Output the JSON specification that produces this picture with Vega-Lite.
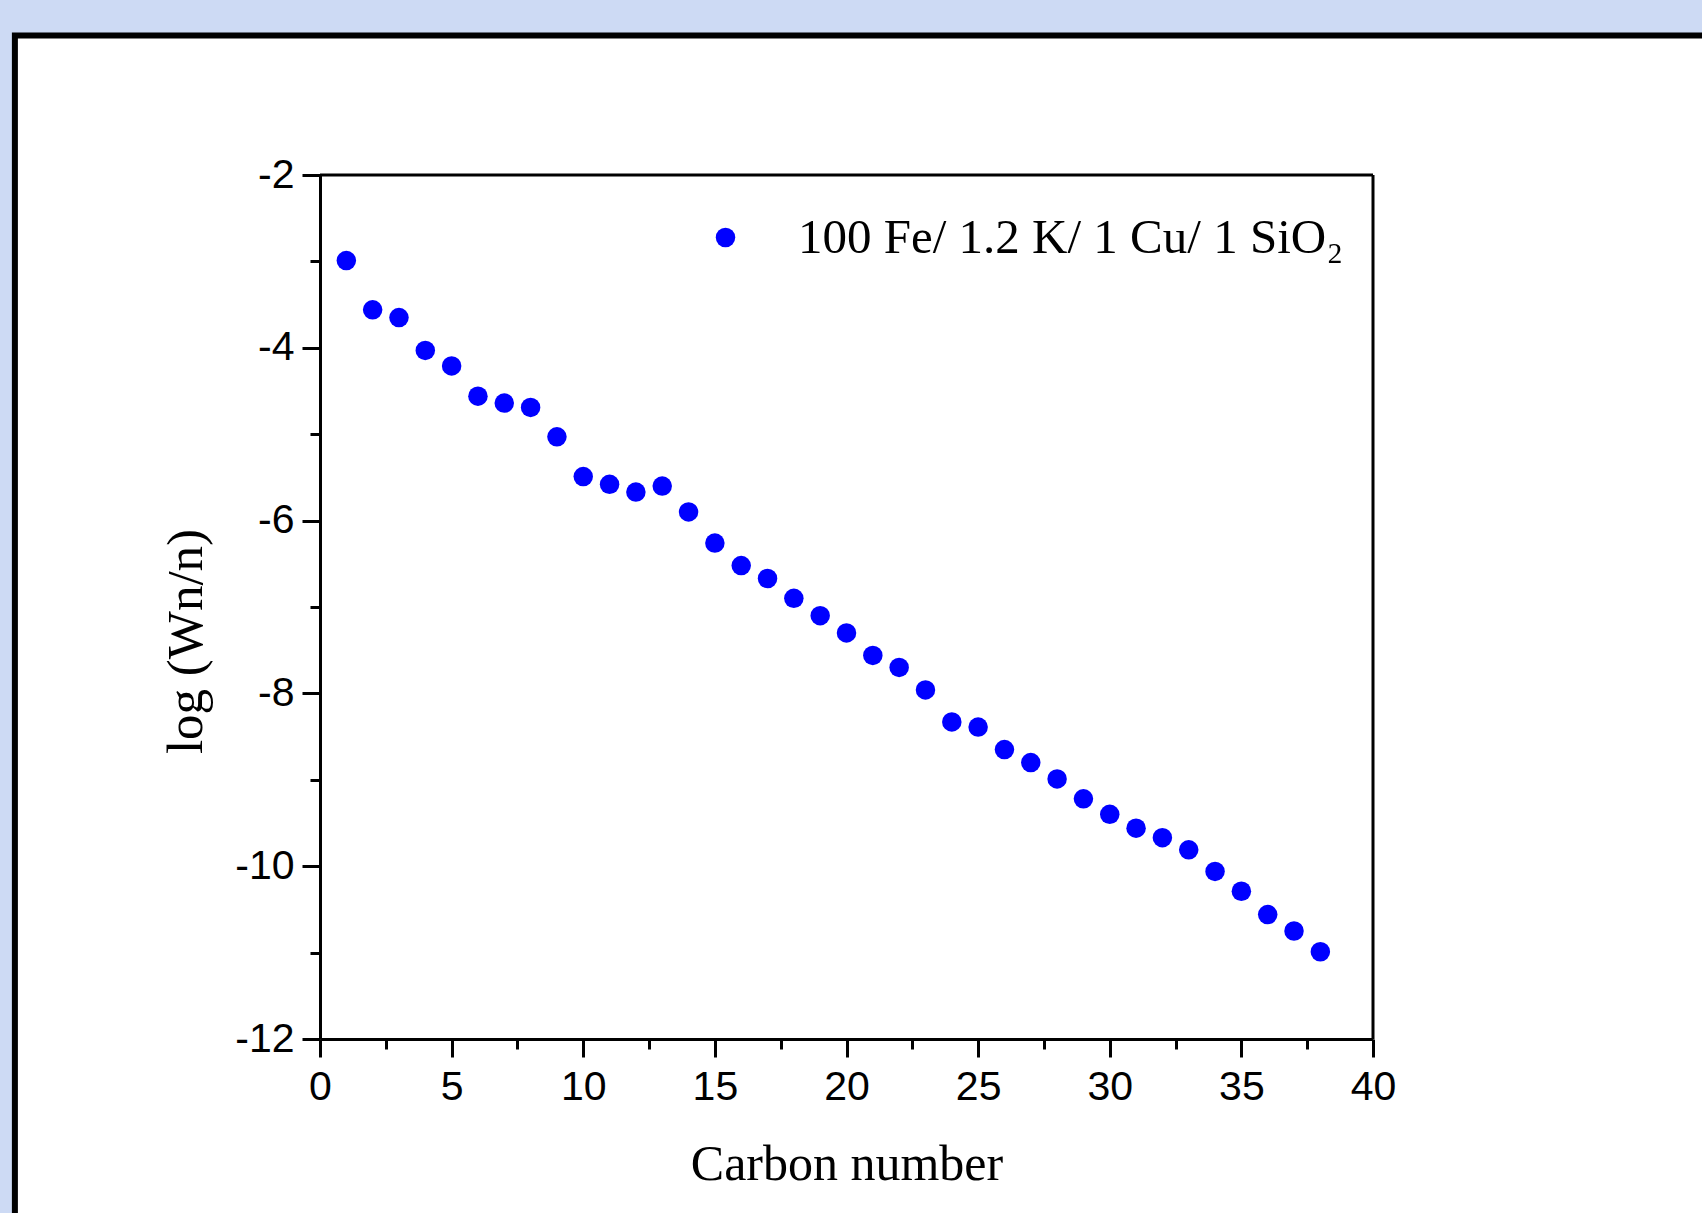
{
  "$schema": "https://vega.github.io/schema/vega-lite/v6.json",
  "width": 1053,
  "height": 864,
  "autosize": {"type": "none"},
  "padding": {"left": 320, "top": 175, "right": 329, "bottom": 174},
  "background": "#cddaf4",
  "config": {
    "view": {"stroke": null}
  },
  "resolve": {"axis": {"x": "independent", "y": "independent"}},
  "datasets": {
    "pts": [
      {"n": 1, "v": -2.99, "s": "100 Fe/ 1.2 K/ 1 Cu/ 1 SiO₂"},
      {"n": 2, "v": -3.56, "s": "100 Fe/ 1.2 K/ 1 Cu/ 1 SiO₂"},
      {"n": 3, "v": -3.65, "s": "100 Fe/ 1.2 K/ 1 Cu/ 1 SiO₂"},
      {"n": 4, "v": -4.03, "s": "100 Fe/ 1.2 K/ 1 Cu/ 1 SiO₂"},
      {"n": 5, "v": -4.21, "s": "100 Fe/ 1.2 K/ 1 Cu/ 1 SiO₂"},
      {"n": 6, "v": -4.56, "s": "100 Fe/ 1.2 K/ 1 Cu/ 1 SiO₂"},
      {"n": 7, "v": -4.64, "s": "100 Fe/ 1.2 K/ 1 Cu/ 1 SiO₂"},
      {"n": 8, "v": -4.69, "s": "100 Fe/ 1.2 K/ 1 Cu/ 1 SiO₂"},
      {"n": 9, "v": -5.03, "s": "100 Fe/ 1.2 K/ 1 Cu/ 1 SiO₂"},
      {"n": 10, "v": -5.49, "s": "100 Fe/ 1.2 K/ 1 Cu/ 1 SiO₂"},
      {"n": 11, "v": -5.58, "s": "100 Fe/ 1.2 K/ 1 Cu/ 1 SiO₂"},
      {"n": 12, "v": -5.67, "s": "100 Fe/ 1.2 K/ 1 Cu/ 1 SiO₂"},
      {"n": 13, "v": -5.60, "s": "100 Fe/ 1.2 K/ 1 Cu/ 1 SiO₂"},
      {"n": 14, "v": -5.90, "s": "100 Fe/ 1.2 K/ 1 Cu/ 1 SiO₂"},
      {"n": 15, "v": -6.26, "s": "100 Fe/ 1.2 K/ 1 Cu/ 1 SiO₂"},
      {"n": 16, "v": -6.52, "s": "100 Fe/ 1.2 K/ 1 Cu/ 1 SiO₂"},
      {"n": 17, "v": -6.67, "s": "100 Fe/ 1.2 K/ 1 Cu/ 1 SiO₂"},
      {"n": 18, "v": -6.90, "s": "100 Fe/ 1.2 K/ 1 Cu/ 1 SiO₂"},
      {"n": 19, "v": -7.10, "s": "100 Fe/ 1.2 K/ 1 Cu/ 1 SiO₂"},
      {"n": 20, "v": -7.30, "s": "100 Fe/ 1.2 K/ 1 Cu/ 1 SiO₂"},
      {"n": 21, "v": -7.56, "s": "100 Fe/ 1.2 K/ 1 Cu/ 1 SiO₂"},
      {"n": 22, "v": -7.70, "s": "100 Fe/ 1.2 K/ 1 Cu/ 1 SiO₂"},
      {"n": 23, "v": -7.96, "s": "100 Fe/ 1.2 K/ 1 Cu/ 1 SiO₂"},
      {"n": 24, "v": -8.33, "s": "100 Fe/ 1.2 K/ 1 Cu/ 1 SiO₂"},
      {"n": 25, "v": -8.39, "s": "100 Fe/ 1.2 K/ 1 Cu/ 1 SiO₂"},
      {"n": 26, "v": -8.65, "s": "100 Fe/ 1.2 K/ 1 Cu/ 1 SiO₂"},
      {"n": 27, "v": -8.80, "s": "100 Fe/ 1.2 K/ 1 Cu/ 1 SiO₂"},
      {"n": 28, "v": -8.99, "s": "100 Fe/ 1.2 K/ 1 Cu/ 1 SiO₂"},
      {"n": 29, "v": -9.22, "s": "100 Fe/ 1.2 K/ 1 Cu/ 1 SiO₂"},
      {"n": 30, "v": -9.40, "s": "100 Fe/ 1.2 K/ 1 Cu/ 1 SiO₂"},
      {"n": 31, "v": -9.56, "s": "100 Fe/ 1.2 K/ 1 Cu/ 1 SiO₂"},
      {"n": 32, "v": -9.67, "s": "100 Fe/ 1.2 K/ 1 Cu/ 1 SiO₂"},
      {"n": 33, "v": -9.81, "s": "100 Fe/ 1.2 K/ 1 Cu/ 1 SiO₂"},
      {"n": 34, "v": -10.06, "s": "100 Fe/ 1.2 K/ 1 Cu/ 1 SiO₂"},
      {"n": 35, "v": -10.29, "s": "100 Fe/ 1.2 K/ 1 Cu/ 1 SiO₂"},
      {"n": 36, "v": -10.56, "s": "100 Fe/ 1.2 K/ 1 Cu/ 1 SiO₂"},
      {"n": 37, "v": -10.75, "s": "100 Fe/ 1.2 K/ 1 Cu/ 1 SiO₂"},
      {"n": 38, "v": -10.99, "s": "100 Fe/ 1.2 K/ 1 Cu/ 1 SiO₂"}
    ]
  },
  "layer": [
    {
      "data": {"values": [{}]},
      "mark": {"type": "rect", "fill": "white", "stroke": "black", "strokeWidth": 6, "clip": false},
      "encoding": {
        "x": {"datum": -11.59, "type": "quantitative", "axis": null, "scale": {"domain": [0, 40], "nice": false, "zero": false}},
        "x2": {"datum": 80},
        "y": {"datum": -0.385, "type": "quantitative", "axis": null, "scale": {"domain": [-12, -2], "nice": false, "zero": false}},
        "y2": {"datum": -30}
      }
    },
    {
      "data": {"values": [{}]},
      "mark": {"type": "rule", "stroke": "black", "strokeWidth": 3},
      "encoding": {
        "y": {
          "datum": -2,
          "type": "quantitative",
          "axis": {
            "orient": "left",
            "zindex": 1,
            "title": null,
            "values": [-11, -9, -7, -5, -3],
            "labels": false,
            "domain": false,
            "grid": false,
            "tickColor": "black",
            "tickWidth": 3,
            "tickSize": 10
          }
        }
      }
    },
    {
      "data": {"values": [{}]},
      "mark": {"type": "rule", "stroke": "black", "strokeWidth": 3},
      "encoding": {
        "x": {
          "datum": 40,
          "type": "quantitative",
          "axis": {
            "orient": "bottom",
            "zindex": 1,
            "title": null,
            "values": [2.5, 7.5, 12.5, 17.5, 22.5, 27.5, 32.5, 37.5],
            "labels": false,
            "domain": false,
            "grid": false,
            "tickColor": "black",
            "tickWidth": 3,
            "tickSize": 10
          }
        }
      }
    },
    {
      "data": {"name": "pts"},
      "mark": {"type": "circle", "size": 380, "opacity": 1},
      "encoding": {
        "x": {
          "field": "n",
          "type": "quantitative",
          "axis": {
            "orient": "bottom",
            "zindex": 1,
            "title": "Carbon number",
            "values": [0, 5, 10, 15, 20, 25, 30, 35, 40],
            "labelExpr": "'' + datum.value",
            "grid": false,
            "domainColor": "black",
            "domainWidth": 3,
            "tickColor": "black",
            "tickWidth": 3,
            "tickSize": 18,
            "labelFont": "Liberation Sans",
            "labelFontSize": 41,
            "labelColor": "black",
            "labelPadding": 10,
            "labelFlush": false,
            "labelOverlap": false,
            "titleFont": "Liberation Serif",
            "titleFontSize": 50,
            "titleFontWeight": "normal",
            "titleColor": "black",
            "titlePadding": 32
          }
        },
        "y": {
          "field": "v",
          "type": "quantitative",
          "axis": {
            "orient": "left",
            "zindex": 1,
            "title": "log (Wn/n)",
            "values": [-12, -10, -8, -6, -4, -2],
            "labelExpr": "'' + datum.value",
            "grid": false,
            "domainColor": "black",
            "domainWidth": 3,
            "tickColor": "black",
            "tickWidth": 3,
            "tickSize": 18,
            "labelFont": "Liberation Sans",
            "labelFontSize": 41,
            "labelColor": "black",
            "labelPadding": 8,
            "labelFlush": false,
            "labelOverlap": false,
            "titleFont": "Liberation Serif",
            "titleFontSize": 51,
            "titleFontWeight": "normal",
            "titleColor": "black",
            "titlePadding": 22,
            "titleY": 466
          }
        },
        "color": {
          "field": "s",
          "type": "nominal",
          "scale": {"range": ["#0000ff"]},
          "legend": {
            "title": null,
            "orient": "none",
            "legendX": 381,
            "legendY": 38,
            "padding": 0,
            "symbolType": "circle",
            "symbolSize": 380,
            "symbolOpacity": 1,
            "symbolStrokeWidth": 0,
            "labelFont": "Liberation Serif",
            "labelFontSize": 49,
            "labelColor": "black",
            "labelOffset": 48,
            "labelLimit": 800
          }
        }
      }
    }
  ]
}
